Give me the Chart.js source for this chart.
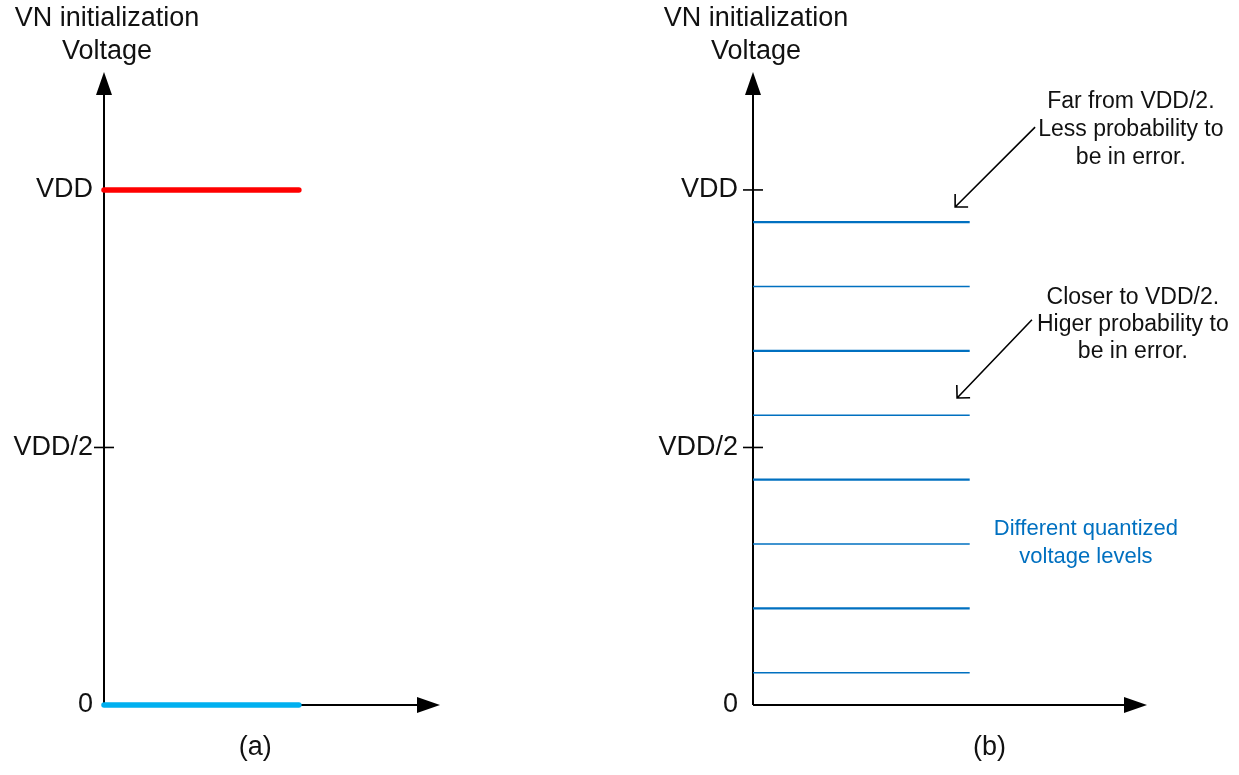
<!DOCTYPE html>
<html>
<head>
<meta charset="utf-8">
<script src="https://cdn.jsdelivr.net/npm/chart.js@4.4.1/dist/chart.umd.min.js"></script>
<style>
  html, body { margin: 0; padding: 0; background: #fff; }
  #wrap { position: relative; width: 1239px; height: 775px; }
  canvas { position: absolute; top: 0; }
  #chartA { left: 0; }
  #chartB { left: 620px; }
</style>
</head>
<body>
<div id="wrap">
  <canvas id="chartA" width="620" height="775"></canvas>
  <canvas id="chartB" width="619" height="775"></canvas>
</div>
<script>
// y values are in units of VDD
var tickValues = [0, 0.5, 1];
var tickLabels = ['0', 'VDD/2', 'VDD'];

// panel (a): two initialization levels
var levelsA = [1, 0];
var colorsA = ['#ff0000', '#00b0f0'];
var spanA = [0, 5.8];

// panel (b): quantized levels
var levelsB = [0.0625, 0.1875, 0.3125, 0.4375, 0.5625, 0.6875, 0.8125, 0.9375];
var spanB = [0, 5.5];

var titleLines = ['VN initialization', 'Voltage'];
var noteFar = ['Far from VDD/2.', 'Less probability to', 'be in error.'];
var noteClose = ['Closer to VDD/2.', 'Higer probability to', 'be in error.'];
var noteLevels = ['Different quantized', 'voltage levels'];

Chart.defaults.font.family = '"Liberation Sans", Arial, sans-serif';
Chart.defaults.color = '#111';

function arrowHead(ctx, x, y, dir) {
  // filled triangle pointing 'up' or 'right'
  ctx.beginPath();
  if (dir === 'up') {
    ctx.moveTo(x, y);
    ctx.lineTo(x - 8, y + 23);
    ctx.lineTo(x + 8, y + 23);
  } else {
    ctx.moveTo(x, y);
    ctx.lineTo(x - 23, y - 8);
    ctx.lineTo(x - 23, y + 8);
  }
  ctx.closePath();
  ctx.fill();
}

function noteArrow(ctx, x1, y1, x2, y2) {
  var ang = Math.atan2(y2 - y1, x2 - x1);
  ctx.beginPath();
  ctx.moveTo(x1, y1);
  ctx.lineTo(x2, y2);
  ctx.moveTo(x2 - 13 * Math.cos(ang - Math.PI / 4), y2 - 13 * Math.sin(ang - Math.PI / 4));
  ctx.lineTo(x2, y2);
  ctx.lineTo(x2 - 13 * Math.cos(ang + Math.PI / 4), y2 - 13 * Math.sin(ang + Math.PI / 4));
  ctx.stroke();
}

function textLines(ctx, lines, x, y, gap) {
  for (var i = 0; i < lines.length; i++) {
    ctx.fillText(lines[i], x, y + i * gap);
  }
}

// axes with arrows, tick crosses and texts
function sketchPlugin(opts) {
  return {
    id: 'sketch',
    beforeDatasetsDraw: function(chart) {
      var ctx = chart.ctx;
      var a = chart.chartArea;
      var ys = chart.scales.y;
      ctx.save();
      ctx.strokeStyle = '#000';
      ctx.fillStyle = '#000';
      ctx.lineWidth = 2;
      ctx.beginPath();
      ctx.moveTo(a.left, a.bottom);
      ctx.lineTo(a.left, a.top + 20);
      ctx.moveTo(a.left, a.bottom);
      ctx.lineTo(a.right - 20, a.bottom);
      ctx.stroke();
      arrowHead(ctx, a.left, a.top, 'up');
      arrowHead(ctx, a.right, a.bottom, 'right');

      ctx.lineWidth = 1.6;
      opts.tickMarks.forEach(function(v) {
        var y = ys.getPixelForValue(v);
        ctx.beginPath();
        ctx.moveTo(a.left - 10, y);
        ctx.lineTo(a.left + 10, y);
        ctx.stroke();
      });

      ctx.font = '27px "Liberation Sans", Arial, sans-serif';
      ctx.fillStyle = '#111';
      ctx.textAlign = 'center';
      ctx.textBaseline = 'middle';
      textLines(ctx, titleLines, a.left + 3, 19, 33);
      ctx.restore();
    },
    afterDraw: function(chart) {
      var ctx = chart.ctx;
      var xs = chart.scales.x;
      var ys = chart.scales.y;
      ctx.save();
      ctx.textAlign = 'center';
      ctx.textBaseline = 'middle';
      ctx.fillStyle = '#111';
      ctx.font = '27px "Liberation Sans", Arial, sans-serif';
      ctx.fillText(opts.panel, xs.getPixelForValue(opts.panelX), 748);

      (opts.notes || []).forEach(function(n) {
        ctx.font = n.size + 'px "Liberation Sans", Arial, sans-serif';
        ctx.fillStyle = n.color;
        textLines(ctx, n.lines, xs.getPixelForValue(n.x), ys.getPixelForValue(n.y), n.gap);
        if (n.arrow) {
          ctx.strokeStyle = '#000';
          ctx.lineWidth = 1.6;
          noteArrow(ctx,
            xs.getPixelForValue(n.arrow[0]), ys.getPixelForValue(n.arrow[1]),
            xs.getPixelForValue(n.arrow[2]), ys.getPixelForValue(n.arrow[3]));
        }
      });
      ctx.restore();
    }
  };
}

function makeOptions(yWidth, padRight, labelPad) {
  return {
    responsive: false,
    animation: false,
    layout: { padding: { left: 0, top: 72, bottom: 70, right: padRight } },
    plugins: { legend: { display: false }, tooltip: { enabled: false } },
    elements: { point: { radius: 0 } },
    scales: {
      x: { type: 'linear', min: 0, max: 10, display: false },
      y: {
        type: 'linear', min: 0, max: 1.229,
        grid: { display: false },
        border: { display: false },
        afterBuildTicks: function(scale) {
          scale.ticks = tickValues.map(function(v) { return { value: v }; });
        },
        afterFit: function(scale) { scale.width = yWidth; },
        ticks: {
          padding: labelPad,
          color: '#111',
          font: { size: 27 },
          callback: function(v) { return tickLabels[tickValues.indexOf(v)]; }
        }
      }
    }
  };
}

var dataA = levelsA.map(function(v, i) {
  return {
    data: spanA.map(function(x) { return { x: x, y: v }; }),
    borderColor: colorsA[i],
    borderWidth: 5.5,
    borderCapStyle: 'round',
    clip: false
  };
});

new Chart(document.getElementById('chartA'), {
  type: 'line',
  data: { datasets: dataA },
  options: makeOptions(104, 180, 3),
  plugins: [sketchPlugin({ tickMarks: [0.5], panel: '(a)', panelX: 4.5 })]
});

var dataB = levelsB.map(function(v, i) {
  return {
    data: spanB.map(function(x) { return { x: x, y: v }; }),
    borderColor: '#0070c0',
    borderWidth: i % 2 ? 2.2 : 1.4,
    clip: false
  };
});

new Chart(document.getElementById('chartB'), {
  type: 'line',
  data: { datasets: dataB },
  options: makeOptions(133, 92, 7),
  plugins: [sketchPlugin({
    tickMarks: [1, 0.5],
    panel: '(b)',
    panelX: 6.0,
    notes: [
      { lines: noteFar, x: 9.59, y: 1.171, gap: 28, size: 23, color: '#111',
        arrow: [7.16, 1.122, 5.13, 0.967] },
      { lines: noteClose, x: 9.64, y: 0.79, gap: 27, size: 23, color: '#111',
        arrow: [7.08, 0.748, 5.18, 0.596] },
      { lines: noteLevels, x: 8.45, y: 0.341, gap: 28, size: 22, color: '#0070c0' }
    ]
  })]
});
</script>
</body>
</html>
